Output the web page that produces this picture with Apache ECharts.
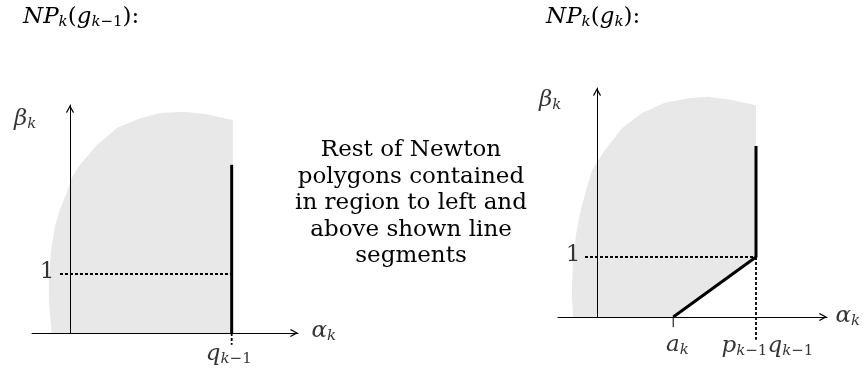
<!DOCTYPE html>
<html>
<head>
<meta charset="utf-8">
<script src="https://cdn.jsdelivr.net/npm/echarts@6/dist/echarts.min.js"></script>
<style>
  html, body { margin: 0; padding: 0; background: #fff; }
  #chart { width: 864px; height: 372px; }
</style>
</head>
<body>
<div id="chart"></div>
<script>
// shaded region (alpha_k, beta_k) for each panel, traced clockwise
const leftRegion = [
  [-0.31, 0], [-0.36, 0.56], [-0.36, 0.9], [-0.32, 1.41], [-0.25, 1.83], [-0.17, 2.09],
  [-0.05, 2.39], [0.03, 2.63], [0.17, 2.85], [0.46, 3.19], [0.8, 3.48], [1.19, 3.64],
  [1.53, 3.73], [1.92, 3.75], [2.29, 3.71], [2.76, 3.61], [2.76, 0]
];
const rightRegion = [
  [-0.4, 0], [-0.42, 0.45], [-0.4, 0.95], [-0.35, 1.37], [-0.28, 1.75], [-0.18, 2.12],
  [-0.08, 2.45], [0.13, 2.78], [0.42, 3.15], [0.75, 3.4], [1.13, 3.57], [1.55, 3.65],
  [1.85, 3.67], [2.22, 3.62], [2.65, 3.53], [2.65, 1], [1.27, 0]
];

// key abscissas
const qPrev = 2.74;   // q_{k-1}
const aK = 1.27;      // a_k
const pq = 2.65;      // p_{k-1} q_{k-1}
const segTop = 2.85;  // where the drawn vertical segments stop

// texts
const titles = ['{m|NP}{s|k}{r|(}{m|g}{s|k}{sr|−1}{r|):}', '{m|NP}{s|k}{r|(}{m|g}{s|k}{r|):}'];
const yName = '{m|β}{s|k}';
const xName = '{m|α}{s|k}';
const oneLabel = '{r|1}';
const qLabel = '{m|q}{s|k}{sr|−1}';
const aLabel = '{m|a}{s|k}';
const pqLabel = '{m|p}{s|k}{sr|−1}{m|q}{s|k}{sr|−1}';
const noteLines = ['Rest of Newton', 'polygons contained', 'in region to left and', 'above shown line', 'segments'];

const FONT = 'DejaVu Serif';
const rich = {
  m: { fontFamily: FONT, fontStyle: 'italic', fontSize: 23, lineHeight: 24, verticalAlign: 'top', color: '#000' },
  r: { fontFamily: FONT, fontSize: 23, lineHeight: 24, verticalAlign: 'top', color: '#000' },
  s: { fontFamily: FONT, fontStyle: 'italic', fontSize: 15, lineHeight: 10, verticalAlign: 'bottom', color: '#000' },
  sr: { fontFamily: FONT, fontSize: 15, lineHeight: 10, verticalAlign: 'bottom', color: '#000' }
};

const ARROW = 'path://M5,0 L10,9 L8.8,10 L5,3 L1.2,10 L0,9 Z';

function axis(gridIndex, min, max) {
  return {
    type: 'value', gridIndex, min, max, z: 3,
    axisLine: {
      show: true, onZero: true,
      symbol: ['none', ARROW], symbolSize: [8, 8], symbolOffset: [0, -4],
      lineStyle: { color: '#000', width: 1 }
    },
    axisTick: { show: false }, axisLabel: { show: false }, splitLine: { show: false }
  };
}

function region(idx, points) {
  return {
    type: 'custom', xAxisIndex: idx, yAxisIndex: idx, z: 1, silent: true,
    data: [[0, 0]],
    renderItem: (params, api) => ({
      type: 'polygon',
      shape: { points: points.map((p) => api.coord(p)) },
      style: { fill: '#e8e8e8' }
    })
  };
}

function seg(idx, data, width, dotted) {
  return {
    type: 'line', xAxisIndex: idx, yAxisIndex: idx, z: dotted ? 2 : 4,
    data, symbol: 'none', clip: false, silent: true, animation: false,
    lineStyle: { color: '#000', width, type: dotted ? [3, 2] : 'solid', cap: 'butt' }
  };
}

function labels(idx, items) {
  return {
    type: 'scatter', xAxisIndex: idx, yAxisIndex: idx, z: 5, clip: false, silent: true,
    symbolSize: 0.1, itemStyle: { color: 'rgba(0,0,0,0)' },
    data: items.map(([text, x, y]) => ({
      value: [x, y],
      label: { show: true, position: 'inside', formatter: text, rich }
    }))
  };
}

const chart = echarts.init(document.getElementById('chart'));
chart.setOption({
  animation: false,
  grid: [
    { left: 32, top: 105, width: 266, height: 228 },
    { left: 558, top: 88, width: 269, height: 229 }
  ],
  xAxis: [axis(0, -0.644, 3.864), axis(1, -0.65, 3.833)],
  yAxis: [axis(0, 0, 3.864), axis(1, 0, 3.817)],
  graphic: [
    { type: 'text', x: 23, y: 5.5, style: { text: titles[0], rich } },
    { type: 'text', x: 546, y: 5.5, style: { text: titles[1], rich } },
    {
      type: 'text', x: 411, y: 136.7,
      style: {
        text: noteLines.join('\n'), fontFamily: FONT, fontSize: 23, lineHeight: 26.6,
        textAlign: 'center', fill: '#000'
      }
    }
  ],
  series: [
    region(0, leftRegion),
    seg(0, [[-0.17, 1], [qPrev, 1]], 1.8, true),
    seg(0, [[qPrev, 0], [qPrev, -0.2]], 1.8, true),
    seg(0, [[qPrev, 0], [qPrev, segTop]], 3, false),
    labels(0, [
      [yName, -0.76, 3.61], [xName, 4.3, 0.03], [oneLabel, -0.39, 1.03], [qLabel, 2.69, -0.36]
    ]),

    region(1, rightRegion),
    seg(1, [[-0.2, 1], [pq, 1]], 1.8, true),
    seg(1, [[pq, 1], [pq, -0.38]], 1.8, true),
    seg(1, [[aK, 0], [aK, -0.17]], 1, false),
    seg(1, [[aK, 0], [pq, 1], [pq, segTop]], 3, false),
    labels(1, [
      [yName, -0.78, 3.6], [xName, 4.18, 0], [oneLabel, -0.4, 1.03],
      [aLabel, 1.34, -0.47], [pqLabel, 2.84, -0.5]
    ])
  ]
});
</script>
</body>
</html>
